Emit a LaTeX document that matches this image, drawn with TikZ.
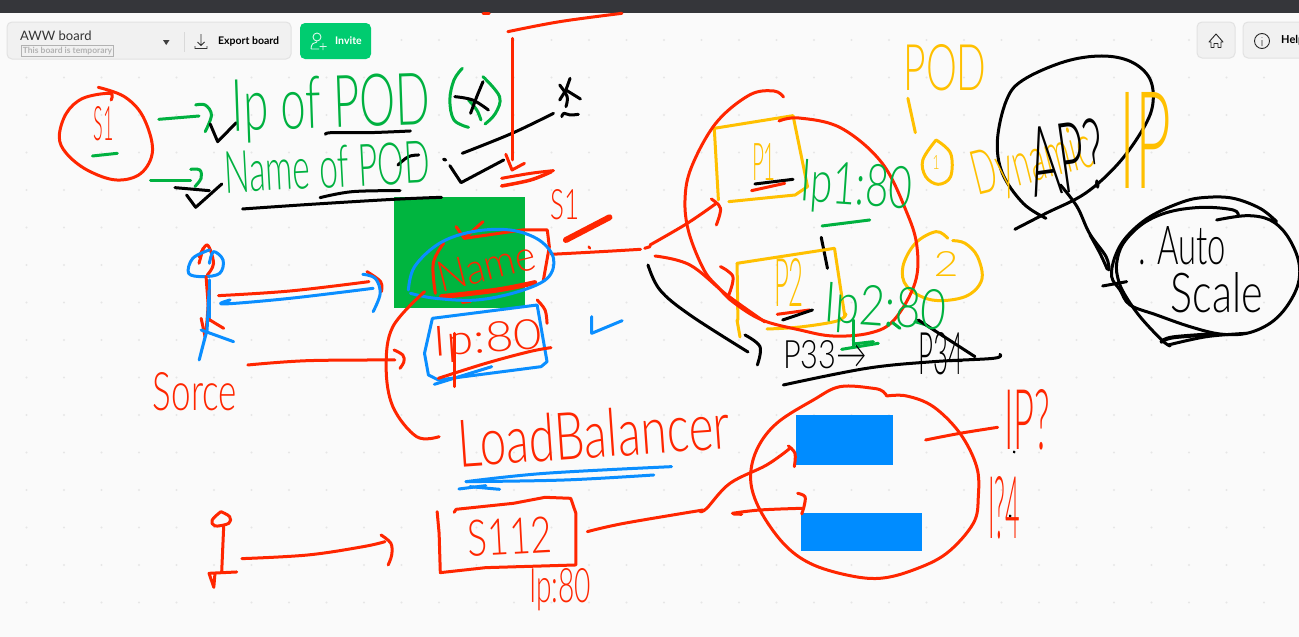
\documentclass[tikz,border=0pt]{standalone}
\usepackage{fontspec}
\setmainfont{Lato}
\newfontfamily\uifont{Lato}
\newfontfamily\handfont{Lato Light}
\definecolor{hred}{HTML}{FF2600}
\definecolor{hgreen}{HTML}{00B140}
\definecolor{hblue}{HTML}{0A8EFF}
\definecolor{hyellow}{HTML}{FFC000}
\definecolor{boardbg}{HTML}{FAFAFA}
\definecolor{topbar}{HTML}{35363A}
\definecolor{griddot}{HTML}{E6E6E6}
\definecolor{panel}{HTML}{F1F1F1}
\definecolor{panelline}{HTML}{E2E2E2}
\definecolor{invitegreen}{HTML}{00CC70}
\definecolor{greenbox}{HTML}{00B53F}
\definecolor{bluebox}{HTML}{008CFF}
\tikzset{
  ink/.style={line cap=round,line join=round},
  zone one/.style={x=0.4146pt,y=-0.3333pt},
  zone two/.style={shift={(650pt,0pt)},x=0.4146pt,y=-0.3333pt},
  zone three/.style={shift={(130pt,-300pt)},x=0.3953pt,y=-0.3333pt},
  zone four/.style={shift={(700pt,-320pt)},x=0.3333pt,y=-0.3333pt},
  zone five/.style={shift={(1090pt,-180pt)},x=0.3333pt,y=-0.3333pt},
  uibox/.style={draw=panelline,fill=panel,line width=1pt,rounded corners=5pt},
}
\newcommand\inkline[3]{\draw[ink,#1,line width=#2pt] plot[smooth,tension=.6] coordinates {#3};}
\newcommand\inkpoly[3]{\draw[ink,#1,line width=#2pt] plot coordinates {#3};}
% name, colour, centre x, centre y, width, height, rotation, text
\newcommand\handtext[8]{\node[inner sep=0pt,text=#2,rotate=#7] (#1) at (#3,#4) {\resizebox{#5pt}{#6pt}{\handfont #8}};}
\begin{document}
\begin{tikzpicture}[x=1pt,y=-1pt]
\useasboundingbox (0,0) rectangle (1299,637);
\clip (0,0) rectangle (1299,637);
\fill[boardbg] (0,0) rectangle (1299,637);
\foreach \i in {0,...,34} \foreach \j in {0,...,15}
  \fill[griddot] ({26.5+37.5*\i},{40+37.5*\j}) circle (1.1pt);
\fill[topbar] (0,0) rectangle (1299,13);

% --- application chrome
\draw[uibox] (7,22) rectangle (291,59);
\node[anchor=west,inner sep=0pt,font=\uifont\fontsize{13}{15}\selectfont,text=black!80] (title) at (20,35.5) {AWW board};
\node[anchor=west,draw=black!30,line width=.8pt,inner sep=1.5pt,font=\uifont\bfseries\fontsize{8.5}{10}\selectfont,text=black!30] (temp) at (21,51) {This board is temporary};
\fill[black!75] (163,40) -- (169.5,40) -- (166.2,45) -- cycle;
\draw[black!15,line width=.8pt] (184,32) -- (184,52);
\draw[black!80,line width=.9pt] (201,34) -- (201,45) (197.5,42) -- (201,45.5) -- (204.5,42) (195,46) -- (195,48.5) -- (207,48.5) -- (207,46);
\node[anchor=west,inner sep=0pt,font=\uifont\bfseries\fontsize{10.5}{12}\selectfont] (export) at (218,41) {Export board};
\fill[invitegreen,rounded corners=5pt] (300,23) rectangle (371,59);
\draw[white!85!invitegreen,line width=.9pt] (317,37) circle (4pt) (311,49) .. controls (311,44) and (314,42) .. (317,42) (311,49) -- (319,49) (323,43) -- (323,50) (319.5,46.5) -- (326.5,46.5);
\node[anchor=west,inner sep=0pt,text=white,font=\uifont\bfseries\fontsize{10.5}{12}\selectfont] (invite) at (335,41) {Invite};
\draw[uibox] (1197,22) rectangle (1235,58);
\draw[black!85,line width=.9pt,line join=round] (1209,42) -- (1216,34) -- (1223,42) -- (1221,42) -- (1221,47.5) -- (1218,47.5) -- (1218,43.5) -- (1214,43.5) -- (1214,47.5) -- (1211,47.5) -- (1211,42) -- cycle;
\draw[uibox] (1243,22) rectangle (1320,58);
\draw[black!85,line width=.9pt] (1262,41) circle (7.5pt) (1262,40) -- (1262,46) (1262,37) -- (1262,37.6);
\node[anchor=west,inner sep=0pt,font=\uifont\bfseries\fontsize{11}{13}\selectfont] (help) at (1281,40.5) {Help};

% --- filled boxes
\fill[greenbox] (394,197) rectangle (525,308);
\fill[bluebox] (796,415) rectangle (893,465);
\fill[bluebox] (801,513) rectangle (921.5,551);

% --- upper left strokes
\begin{scope}[zone one]
\inkline{hred}{3}{(237,262)(300,290)(345,350)(368,450)(340,520)(280,540)(210,510)(160,460)(143,410)(160,340)(200,295)(265,280)(268,300)}
\inkline{hgreen}{3}{(223,468)(283,460)}
\inkline{hgreen}{3}{(383,358)(480,348)}
\inkline{hgreen}{3}{(472,315)(495,315)(510,345)(495,395)}
\inkline{hgreen}{3}{(363,541)(460,541)}
\inkline{hgreen}{3}{(460,508)(482,510)(485,535)(470,560)}
\inkpoly{black}{3}{(507,372)(525,425)(570,368)}
\inkline{black}{3}{(422,563)(505,572)}
\inkpoly{black}{3}{(450,585)(472,622)(535,552)}
\inkline{black}{3}{(785,403)(800,398)(890,398)(990,393)}
\inkline{black}{3}{(585,627)(750,613)(950,598)(1065,592)}
\inkline{black}{3}{(772,593)(850,575)(965,572)}
\inkline{black}{3}{(960,495)(985,470)(1010,465)}
\inkline{black}{3.2}{(1070,478)(1075,480)}
\inkpoly{black}{3}{(1085,497)(1112,548)(1215,480)}
\inkline{black}{3}{(1115,460)(1235,400)(1335,340)}
\inkpoly{black}{3}{(1350,300)(1365,270)(1400,297)}
\inkline{black}{3}{(1350,255)(1368,290)(1365,320)}
\inkline{black}{3}{(1375,235)(1365,270)}
\inkline{black}{3}{(1355,350)(1360,340)(1375,345)(1395,343)}
\inkline{hgreen}{3}{(1115,205)(1095,240)(1085,300)(1095,360)(1130,382)}
\inkline{hgreen}{3}{(1165,230)(1205,290)(1195,340)(1170,372)}
\inkline{hgreen}{3}{(1130,300)(1150,330)(1160,360)}
\inkline{black}{3}{(1097,290)(1140,300)(1178,330)}
\inkline{black}{3}{(1165,245)(1150,290)(1135,340)}
\inkline{hred}{3}{(1225,95)(1350,65)(1500,40)}
\inkline{hred}{3}{(1165,40)(1180,40)}
\inkline{hred}{3}{(1235,115)(1235,300)(1235,480)}
\inkpoly{hred}{3}{(1220,463)(1235,510)(1265,490)}
\inkline{hred}{3}{(1210,535)(1280,520)(1335,512)}
\inkline{hred}{3.5}{(1210,558)(1280,540)(1330,515)}
\inkline{hred}{6}{(1365,720)(1470,652)}
\inkline{hred}{2.5}{(1420,740)(1423,745)}
\inkline{hred}{3}{(1330,763)(1450,755)(1545,748)}
\inkline{hred}{3}{(1555,745)(1568,740)}
\inkpoly{hred}{3}{(1100,680)(1120,715)(1165,665)}
\inkpoly{hred}{3}{(1120,715)(1260,690)(1320,690)(1325,740)(1310,845)}
\inkline{hred}{3}{(1070,730)(1045,790)(1050,880)}
\inkline{hred}{5}{(1065,890)(1200,870)(1290,848)}
\inkline{hred}{2.5}{(1115,908)(1135,905)}
\inkline{hblue}{3}{(985,870)(1000,800)(1060,730)(1140,695)(1230,690)(1300,720)(1335,775)(1320,835)(1250,875)(1150,900)(1050,895)(990,880)}
\inkline{hred}{3}{(480,770)(500,735)(515,790)(500,825)}
\inkline{hred}{3}{(480,790)(490,745)}
\inkline{hblue}{3}{(505,750)(465,775)(455,820)(490,830)(530,820)(538,780)(515,755)(505,790)}
\inkline{hred}{3}{(527,887)(700,873)(890,845)}
\inkline{hred}{3}{(885,815)(918,845)(920,875)}
\inkline{hblue}{3}{(555,900)(540,912)(700,895)(900,865)}
\inkline{hblue}{3}{(875,823)(905,835)(917,880)(900,935)}
\inkline{hred}{3}{(497,830)(505,960)}
\inkline{hblue}{3}{(505,840)(505,960)}
\end{scope}

% --- middle and lower left strokes
\begin{scope}[zone three]
\inkline{hred}{3}{(200,-30)(195,60)(190,110)}
\inkline{hred}{3}{(180,55)(190,110)}
\inkline{hred}{3}{(195,55)(237,85)}
\inkpoly{hblue}{3}{(200,-30)(195,90)(175,180)(190,110)}
\inkline{hblue}{3}{(180,90)(262,125)}
\inkline{hred}{3}{(745,-25)(665,80)(648,200)(665,320)(725,410)(782,410)}
\inkline{hred}{3}{(1030,0)(1050,30)(1055,70)}
\inkpoly{hblue}{3}{(765,55)(1030,15)(1055,185)(1040,200)(780,240)(755,225)(745,160)(765,55)}
\inkline{hblue}{3}{(770,253)(915,200)}
\inkline{hred}{3}{(780,235)(900,190)(1010,155)(1065,143)}
\inkline{hred}{3}{(820,100)(820,260)}
\inkline{hred}{3}{(298,195)(450,182)(670,180)}
\inkline{hred}{3}{(668,150)(690,165)(693,185)(683,205)}
\inkpoly{hblue}{3}{(1168,50)(1168,100)(1245,62)}
\inkline{hred}{3}{(230,635)(208,660)(215,678)(250,670)(252,650)(230,635)}
\inkline{hred}{3}{(237,680)(232,815)}
\inkpoly{hred}{3}{(270,816)(200,820)(212,862)(215,820)}
\inkline{hred}{3}{(283,776)(450,765)(590,740)(645,725)}
\inkline{hred}{3}{(635,705)(660,730)(662,765)(653,795)}
\inkpoly{hred}{3}{(820,637)(825,628)(970,610)(1050,592)(1115,595)(1128,640)(1128,795)(900,803)(785,818)(782,700)(777,635)}
\inkline{hred}{3}{(1157,695)(1250,670)(1450,630)}
\end{scope}

% --- pods area strokes
\begin{scope}[zone two]
\inkpoly{hyellow}{3}{(165,600)(155,385)(345,347)(380,560)(350,585)(190,605)}
\inkline{black}{3}{(253,552)(345,538)}
\inkline{hred}{3}{(245,572)(325,550)}
\inkline{hgreen}{3}{(415,678)(530,660)}
\inkline{black}{3}{(413,712)(428,805)}
\inkline{hyellow}{3}{(622,295)(640,398)}
\inkline{hyellow}{3}{(690,420)(658,480)(665,530)(695,553)(725,530)(725,460)(690,420)}
\inkline{hyellow}{3}{(718,715)(690,695)(640,730)(610,800)(620,860)(680,900)(760,890)(800,840)(790,770)(760,730)(730,722)}
\inkline{black}{3}{(955,655)(900,610)(850,520)(838,420)(860,300)(900,240)(1000,185)(1090,168)(1160,185)(1205,235)(1213,310)(1190,385)(1130,490)(1050,580)(955,640)(880,688)}
\inkline{black}{3}{(990,555)(1030,620)(1060,700)(1100,770)(1107,810)}
\inkline{hred}{3}{(0,735)(90,670)(160,610)}
\inkline{hred}{3}{(148,597)(170,625)(160,675)}
\inkline{hred}{3}{(170,800)(200,830)(190,885)}
\inkpoly{hyellow}{3}{(210,790)(445,745)(470,950)}
\inkpoly{hyellow}{3}{(210,790)(212,960)}
\inkline{hred}{3}{(307,943)(385,930)}
\inkline{black}{3}{(320,960)(392,930)}
\end{scope}
% yellow box of P2, lower part, and the large loops around the pods
\inkpoly{hyellow}{3}{(737,320)(740,337)}
\inkline{hyellow}{3}{(767,329)(800,327)(837,321)(846,314)}
\inkline{hred}{3}{(783.5,97)(774,91)(749.5,95)(716,123)(691.5,167)(685,200)(689,233)(704,270)(718,287)(733,302)(762,320)(800,330)(833,336)(870,333)(894,320)(915,283)(917,247)(907,213)(882,163)(841,128)(799,118)(779,121)}
\inkline{hred}{3}{(655,256)(690,265)(727,295)(765,322)}
\inkline{black}{3}{(648,265)(660,290)(690,315)(748,352)}

\begin{scope}[zone four]
\inkline{black}{3}{(135,45)(180,80)(172,135)}
\inkline{hgreen}{3}{(460,0)(460,80)}
\inkline{hgreen}{3}{(425,88)(535,70)}
\inkline{hgreen}{3}{(460,72)(520,65)}
\inkline{hgreen}{3}{(578,8)(600,25)}
\inkline{hgreen}{3}{(645,5)(680,15)}
\inkline{black}{3}{(655,0)(825,110)}
\inkline{black}{3}{(250,195)(500,145)(700,125)(880,115)(900,103)}
\inkline{hred}{3}{(560,228)(620,228)(700,260)(780,340)(830,440)(835,530)(820,610)(740,700)(640,750)(540,775)(440,765)(330,730)(250,670)(180,570)(152,480)(170,390)(230,310)(340,240)(420,200)(520,205)(550,215)(560,228)}
\inkline{hred}{3}{(677,360)(780,340)(893,322)}
\inkline{hred}{3}{(0,575)(20,565)(90,490)(200,435)(270,385)}
\inkline{hred}{3}{(265,378)(285,400)(283,440)}
\inkline{hred}{3}{(97,580)(180,570)(305,565)}
\inkline{hred}{3}{(293,520)(315,530)(312,560)(305,582)}
\inkline{hred}{3}{(100,582)(125,583)}
\inkline{black}{2.5}{(942,395)(943,397)}
\inkline{black}{2.5}{(930,587)(931,589)}
\end{scope}

\begin{scope}[zone five]
\inkline{black}{3}{(380,120)(470,107)(540,120)(590,165)(625,240)(625,310)(590,380)(540,430)(470,460)(390,462)(300,440)(200,405)(120,375)(90,330)(65,290)(75,230)(110,170)(180,110)(280,65)(350,52)(430,55)(510,85)(560,125)}
\inkline{black}{3}{(445,108)(430,90)(340,82)(240,95)(160,130)(100,190)(80,250)(85,300)(105,345)(150,410)(215,480)(240,498)}
\inkline{black}{4}{(215,485)(250,472)(380,462)}
\inkline{black}{3}{(235,495)(350,470)(470,460)}
\inkline{black}{3}{(38,318)(110,305)}
\inkline{black}{3}{(0,165)(30,220)(52,268)}
\end{scope}

% --- handwritten words
\handtext{sone}{hred}{104}{124}{20}{34}{0}{S1}
\handtext{ipofpod}{hgreen}{331}{108}{198}{52}{2}{Ip of POD}
\handtext{nameofpod}{hgreen}{327}{167}{206}{42}{3}{Name of POD}
\handtext{stwo}{hred}{565}{205}{29}{30}{0}{S1}
\handtext{nameword}{hred}{486}{266}{100}{30}{14}{Name}
\handtext{ipeighty}{hred}{488}{341}{108}{30}{4}{Ip:80}
\handtext{source}{hred}{195}{392}{84}{38}{0}{Sorce}
\handtext{loadbalancer}{hred}{594}{434}{272}{48}{4}{LoadBalancer}
\handtext{sonetwo}{hred}{510}{537}{84}{36}{3}{S112}
\handtext{ipsmall}{hred}{560}{590}{62}{34}{0}{Ip:80}
\handtext{pone}{hyellow}{764}{162}{24}{37}{0}{P1}
\handtext{iponeport}{hgreen}{856}{189}{112}{42}{-4}{Ip1:80}
\handtext{ptwo}{hyellow}{789}{282}{30}{48}{0}{P2}
\handtext{iptwoport}{hgreen}{885}{311}{122}{40}{-4}{Ip2:80}
\handtext{pthree}{black}{825}{355}{84}{28}{0}{P33→}
\handtext{pfour}{black}{941}{354}{45}{42}{0}{P34}
\handtext{podword}{hyellow}{945}{68}{83}{46}{0}{POD}
\handtext{circleone}{hyellow}{936}{162}{7}{14}{0}{1}
\handtext{dynamic}{hyellow}{1033}{165}{122}{44}{14}{Dynamic}
\handtext{ipword}{hyellow}{1145}{140}{52}{96}{0}{IP}
\handtext{circletwo}{hyellow}{946}{264}{25}{25}{0}{2}
\handtext{apiword}{black}{1067}{158}{76}{70}{8}{AP?}
\handtext{autoword}{black}{1182}{246}{88}{38}{0}{. Auto}
\handtext{scaleword}{black}{1217}{293}{92}{40}{0}{Scale}
\handtext{ipthree}{hred}{1027}{420}{46}{60}{0}{IP?}
\handtext{ipfour}{hred}{1004}{508}{32}{62}{0}{I?4}

% --- blue underlines over the LoadBalancer word
\begin{scope}[zone three]
\inkline{hblue}{3}{(850,545)(1050,520)(1370,500)}
\inkline{hblue}{3}{(850,545)(1100,540)(1325,525)}
\inkline{hblue}{3}{(832,567)(900,557)}
\inkline{hblue}{3}{(860,560)(935,568)}
\end{scope}
\end{tikzpicture}
\end{document}
